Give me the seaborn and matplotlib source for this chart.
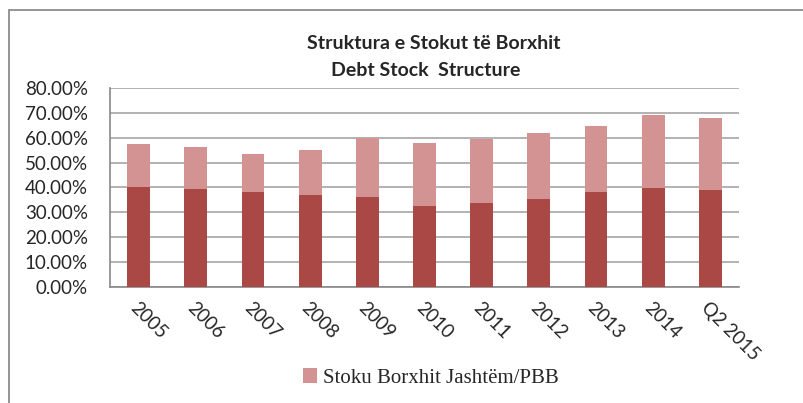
import seaborn as sns
import matplotlib.pyplot as plt
import pandas as pd
from matplotlib.patches import Patch, Rectangle

# Data (share of GDP, %)
years = ['2005', '2006', '2007', '2008', '2009', '2010', '2011', '2012', '2013', '2014', 'Q2 2015']
domestic = [40.0, 39.5, 38.0, 36.8, 36.0, 32.7, 33.6, 35.2, 38.0, 39.9, 38.8]
external = [17.4, 16.6, 15.4, 18.2, 23.7, 25.1, 25.7, 26.8, 26.8, 29.3, 29.2]

df = pd.DataFrame({'year': years, 'domestic': domestic, 'external': external})
df['total'] = df['domestic'] + df['external']

dark = '#AA4846'
pink = '#D29392'
grid_col = '#A6A6A6'
axis_col = '#888888'

sns.set_style('white')
plt.rcParams['font.family'] = ['Lato', 'DejaVu Sans']

fig = plt.figure(figsize=(8.04, 4.03), dpi=100)
ax = fig.add_axes([0.137, 0.288, 0.782, 0.494])

sns.barplot(data=df, x='year', y='total', color=pink, saturation=1, linewidth=0,
            width=0.4, errorbar=None, ax=ax, zorder=3)
sns.barplot(data=df, x='year', y='domestic', color=dark, saturation=1, linewidth=0,
            width=0.4, errorbar=None, ax=ax, zorder=3)

ax.set_xlim(-0.5, len(years) - 0.5)
ax.set_ylim(0, 80)
ax.set_yticks(range(0, 81, 10))
ax.set_yticklabels([f'{v:.2f}%' for v in range(0, 81, 10)], fontsize=13.5)
ax.yaxis.grid(True, color=grid_col, linewidth=1.2, zorder=0)
ax.set_axisbelow(True)
ax.set_xlabel('')
ax.set_ylabel('')

# x tick marks at category boundaries, labels at centres
ax.set_xticks([i - 0.5 for i in range(len(years) + 1)], minor=True)
ax.tick_params(axis='x', which='minor', length=6, width=1.2, color=axis_col, direction='out')
ax.tick_params(axis='x', which='major', length=0, pad=9)
ax.tick_params(axis='y', length=6, width=1.2, color=axis_col, direction='out', pad=10)
ax.set_xticks(range(len(years)))
ax.set_xticklabels(years, rotation=-45, ha='left', va='top', rotation_mode='anchor', fontsize=13.5)

for s in ['top', 'right']:
    ax.spines[s].set_visible(False)
for s in ['left', 'bottom']:
    ax.spines[s].set_color(axis_col)
    ax.spines[s].set_linewidth(1.2)

fig.text(0.54, 0.893, 'Struktura e Stokut të Borxhit', ha='center', va='center',
         fontsize=14, fontweight='bold')
fig.text(0.529, 0.826, 'Debt Stock  Structure', ha='center', va='center',
         fontsize=14, fontweight='bold')

handles = [Patch(facecolor=pink, edgecolor='none', label='Stoku Borxhit Jashtëm/PBB')]
fig.legend(handles=handles, loc='center left', bbox_to_anchor=(0.353, 0.062),
           frameon=False, handlelength=0.7, handleheight=0.7, handletextpad=0.3,
           prop={'family': 'Liberation Serif', 'size': 15})

# chart frame
fig.patches.append(Rectangle((0.0115, -0.1), 1.2, 1.075, transform=fig.transFigure,
                             fill=False, edgecolor='#8C8C8C', linewidth=1.3))

plt.savefig('out.png', dpi=100)
plt.close()
